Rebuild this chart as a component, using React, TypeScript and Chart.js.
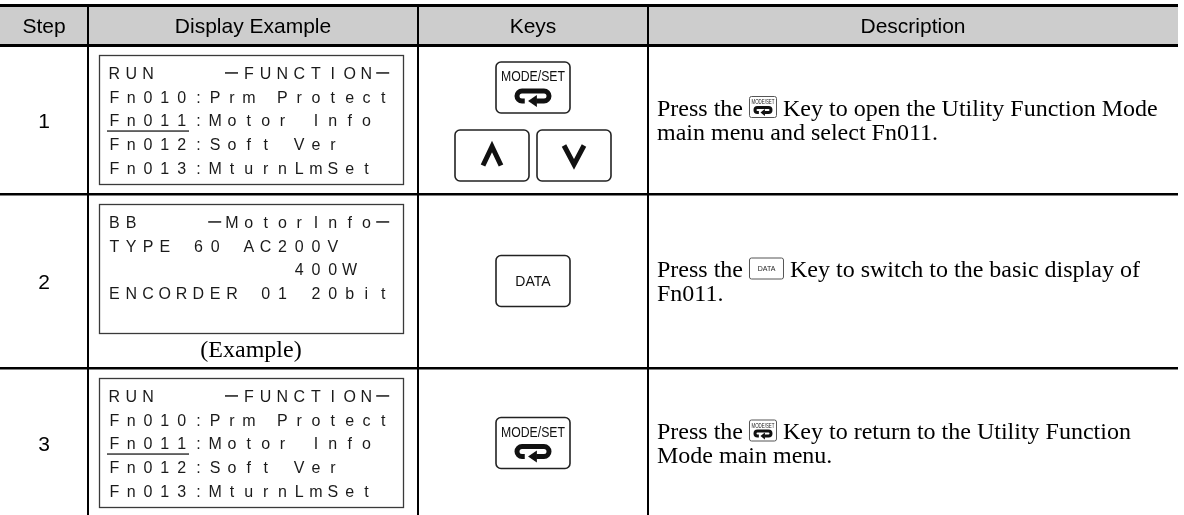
import React, { useEffect, useRef } from "react";
import { Chart, registerables } from "chart.js";

Chart.register(...registerables);

// ---------------- data ----------------
const HEADERS = ["Step", "Display Example", "Keys", "Description"];
const STEPS = ["1", "2", "3"];

const DISPLAY_STEP1 = ["RUN    −FUNCTION−", "Fn010:Prm Protect", "Fn011:Motor Info", "Fn012:Soft Ver", "Fn013:MturnLmSet"];
const DISPLAY_STEP2 = ["BB    −MotorInfo−", "TYPE 60 AC200V", "           400W", "ENCORDER 01 20bit"];
const DISPLAY_STEP3 = ["RUN    −FUNCTION−", "Fn010:Prm Protect", "Fn011:Motor Info", "Fn012:Soft Ver", "Fn013:MturnLmSet"];
const DISPLAYS = [DISPLAY_STEP1, DISPLAY_STEP2, DISPLAY_STEP3];
const DISPLAY_UNDERLINED_LINE = [2, -1, 2];
const DISPLAY_UNDERLINED_CHARS = 5;
const DISPLAY_CAPTIONS = ["", "(Example)", ""];

const KEYS_STEP1 = [["MODE/SET"], ["UP", "DOWN"]];
const KEYS_STEP2 = [["DATA"]];
const KEYS_STEP3 = [["MODE/SET"]];
const KEYS = [KEYS_STEP1, KEYS_STEP2, KEYS_STEP3];

const DESC_STEP1 = ["Press the {MODE/SET} Key to open the Utility Function Mode", "main menu and select Fn011."];
const DESC_STEP2 = ["Press the {DATA} Key to switch to the basic display of", "Fn011."];
const DESC_STEP3 = ["Press the {MODE/SET} Key to return to the Utility Function", "Mode main menu."];
const DESCRIPTIONS = [DESC_STEP1, DESC_STEP2, DESC_STEP3];

// ---------------- layout ----------------
const W = 1184;
const H = 515;
const COL_EDGES = [0, 88, 418, 648, 1178];
const ROW_EDGES = [5, 45, 194, 368, 518];

const SANS = "'Liberation Sans', Arial, Helvetica, sans-serif";
const SERIF = "'Liberation Serif', 'Times New Roman', Times, serif";

function roundRect(ctx: CanvasRenderingContext2D, x: number, y: number, w: number, h: number, r: number) {
  ctx.beginPath();
  ctx.moveTo(x + r, y);
  ctx.lineTo(x + w - r, y);
  ctx.arcTo(x + w, y, x + w, y + r, r);
  ctx.lineTo(x + w, y + h - r);
  ctx.arcTo(x + w, y + h, x + w - r, y + h, r);
  ctx.lineTo(x + r, y + h);
  ctx.arcTo(x, y + h, x, y + h - r, r);
  ctx.lineTo(x, y + r);
  ctx.arcTo(x, y, x + r, y, r);
  ctx.closePath();
}

function drawEnter(ctx: CanvasRenderingContext2D, cx: number, cy: number, halfW: number, r: number, lw: number, ah: number) {
  const xL = cx - halfW;
  const xR = cx + halfW;
  ctx.save();
  ctx.strokeStyle = "#111";
  ctx.fillStyle = "#111";
  ctx.lineWidth = lw;
  ctx.lineCap = "butt";
  ctx.beginPath();
  ctx.moveTo(xL + halfW * 0.25, cy + r);
  ctx.lineTo(xL, cy + r);
  ctx.arc(xL, cy, r, Math.PI / 2, (3 * Math.PI) / 2, false);
  ctx.lineTo(xR, cy - r);
  ctx.arc(xR, cy, r, -Math.PI / 2, Math.PI / 2, false);
  ctx.lineTo(cx + halfW * 0.3, cy + r);
  ctx.stroke();
  // arrow head pointing left
  ctx.beginPath();
  ctx.moveTo(cx - halfW * 0.45, cy + r);
  ctx.lineTo(cx + halfW * 0.35, cy + r - ah);
  ctx.lineTo(cx + halfW * 0.35, cy + r + ah);
  ctx.closePath();
  ctx.fill();
  ctx.restore();
}

function drawKey(ctx: CanvasRenderingContext2D, name: string, x: number, y: number, w: number, h: number) {
  ctx.save();
  roundRect(ctx, x, y, w, h, 5);
  ctx.fillStyle = "#fff";
  ctx.fill();
  ctx.strokeStyle = "#222";
  ctx.lineWidth = 1.6;
  ctx.stroke();
  const cx = x + w / 2;
  ctx.fillStyle = "#111";
  ctx.textAlign = "center";
  ctx.textBaseline = "alphabetic";
  if (name === "MODE/SET") {
    ctx.font = `15px ${SANS}`;
    ctx.fillText("MODE/SET", cx, y + 19, w - 10);
    drawEnter(ctx, cx, y + 34, 11, 5, 5, 6);
  } else if (name === "DATA") {
    ctx.font = `14px ${SANS}`;
    ctx.fillText("DATA", cx, y + h / 2 + 5);
  } else {
    const cy = y + h / 2;
    ctx.strokeStyle = "#111";
    ctx.lineWidth = 5;
    ctx.lineJoin = "miter";
    ctx.miterLimit = 10;
    ctx.beginPath();
    if (name === "UP") {
      ctx.moveTo(cx - 9, cy + 10);
      ctx.lineTo(cx, cy - 9);
      ctx.lineTo(cx + 9, cy + 10);
    } else {
      ctx.moveTo(cx - 10, cy - 10);
      ctx.lineTo(cx, cy + 9);
      ctx.lineTo(cx + 10, cy - 10);
    }
    ctx.stroke();
  }
  ctx.restore();
}

function inlineIconWidth(name: string) {
  return name === "DATA" ? 34 : 27;
}

function drawInlineIcon(ctx: CanvasRenderingContext2D, name: string, x: number, cy: number) {
  const w = inlineIconWidth(name);
  const h = 21;
  const y = cy - h / 2;
  ctx.save();
  roundRect(ctx, x + 0.5, y + 0.5, w, h, 2);
  ctx.strokeStyle = "#555";
  ctx.lineWidth = 1;
  ctx.stroke();
  ctx.fillStyle = "#222";
  ctx.textAlign = "center";
  ctx.textBaseline = "alphabetic";
  if (name === "MODE/SET") {
    ctx.font = `7px ${SANS}`;
    ctx.fillText("MODE/SET", x + w / 2 + 0.5, y + 8, w - 4);
    drawEnter(ctx, x + w / 2 + 0.5, y + 14, 5.5, 2.5, 3, 3.5);
  } else {
    ctx.font = `7px ${SANS}`;
    ctx.fillText("DATA", x + w / 2 + 0.5, y + h / 2 + 3);
  }
  ctx.restore();
}

const tablePlugin = {
  id: "tableCells",
  beforeDraw(chart: any) {
    const { ctx } = chart;
    const x = chart.scales.x;
    const y = chart.scales.y;
    const l = x.getPixelForValue(COL_EDGES[0]);
    const r = x.getPixelForValue(COL_EDGES[COL_EDGES.length - 1]);
    const t = y.getPixelForValue(ROW_EDGES[0]);
    const b = y.getPixelForValue(ROW_EDGES[1]);
    ctx.save();
    ctx.fillStyle = "#cdcdcd";
    ctx.fillRect(l, t, r - l, b - t);
    ctx.restore();
  },
  afterDraw(chart: any) {
    const { ctx } = chart;
    const xs = chart.scales.x;
    const ys = chart.scales.y;
    const px = (v: number) => xs.getPixelForValue(v);
    const py = (v: number) => ys.getPixelForValue(v);
    const colC = (i: number) => (px(COL_EDGES[i]) + px(COL_EDGES[i + 1])) / 2;

    ctx.save();
    ctx.fillStyle = "#000";
    // header
    ctx.font = `21px ${SANS}`;
    ctx.textAlign = "center";
    ctx.textBaseline = "alphabetic";
    HEADERS.forEach((h, i) => {
      ctx.fillText(h, colC(i), py(ROW_EDGES[0]) + 27.5);
    });

    for (let s = 0; s < STEPS.length; s++) {
      const top = py(ROW_EDGES[s + 1]);
      const bot = py(ROW_EDGES[s + 2]);
      const mid = (top + bot) / 2;

      // step number
      ctx.fillStyle = "#000";
      ctx.font = `21px ${SANS}`;
      ctx.textAlign = "center";
      ctx.textBaseline = "alphabetic";
      ctx.fillText(STEPS[s], colC(0), mid + 8);

      // LCD display box
      const bx = px(COL_EDGES[1]) + 11;
      const bw = px(COL_EDGES[2]) - 15 - bx;
      const by = top + 10;
      const bh = 129;
      ctx.strokeStyle = "#3a3a3a";
      ctx.lineWidth = 1.3;
      ctx.strokeRect(bx + 0.5, by + 0.5, bw, bh);
      const pitch = 16.8;
      const tx0 = bx + 7;
      ctx.font = `16px ${SANS}`;
      ctx.fillStyle = "#1a1a1a";
      DISPLAYS[s].forEach((line, li) => {
        const ly = by + 18 + li * 23.7;
        for (let c = 0; c < line.length; c++) {
          const ch = line[c];
          const cx = tx0 + (c + 0.5) * pitch;
          if (ch === " ") continue;
          if (ch === "−") {
            ctx.fillRect(cx - 7, ly - 0.8, 13, 1.5);
          } else {
            ctx.fillText(ch, cx, ly + 5.8);
          }
        }
        if (DISPLAY_UNDERLINED_LINE[s] === li) {
          ctx.fillRect(tx0 + 1, ly + 10, DISPLAY_UNDERLINED_CHARS * pitch - 2, 1.3);
        }
      });
      if (DISPLAY_CAPTIONS[s]) {
        ctx.font = `24px ${SERIF}`;
        ctx.fillStyle = "#000";
        ctx.fillText(DISPLAY_CAPTIONS[s], bx + bw / 2, by + bh + 24);
      }

      // keys
      const kw = 74;
      const kh = 51;
      const groups = KEYS[s];
      const centers = groups.length === 2 ? [mid - 32, mid + 36] : [mid];
      groups.forEach((g, gi) => {
        const gap = 8;
        const total = g.length * kw + (g.length - 1) * gap;
        let kx = colC(2) - total / 2;
        g.forEach((k) => {
          drawKey(ctx, k, kx, centers[gi] - kh / 2, kw, kh);
          kx += kw + gap;
        });
      });

      // description
      ctx.font = `24px ${SERIF}`;
      ctx.fillStyle = "#000";
      ctx.textAlign = "left";
      ctx.textBaseline = "alphabetic";
      const dx0 = px(COL_EDGES[3]) + 9;
      DESCRIPTIONS[s].forEach((line, li) => {
        const ly = mid - 12 + li * 24;
        const parts = line.split(/\{(.+?)\}/);
        let cx = dx0;
        parts.forEach((p, pi) => {
          if (pi % 2 === 1) {
            drawInlineIcon(ctx, p, cx, ly - 1);
            cx += inlineIconWidth(p) + 1;
            ctx.font = `24px ${SERIF}`;
            ctx.fillStyle = "#000";
            ctx.textAlign = "left";
            ctx.textBaseline = "alphabetic";
          } else if (p) {
            ctx.fillText(p, cx, ly + 8);
            cx += ctx.measureText(p).width;
          }
        });
      });
    }
    ctx.restore();
  },
};

export default function App() {
  const ref = useRef<HTMLCanvasElement | null>(null);
  useEffect(() => {
    const canvas = ref.current;
    if (!canvas) return;
    const chart = new Chart(canvas, {
      type: "scatter",
      data: { datasets: [] },
      options: {
        responsive: false,
        animation: false,
        events: [],
        devicePixelRatio: 1,
        layout: {
          padding: {
            left: 0,
            top: ROW_EDGES[0],
            right: W - COL_EDGES[COL_EDGES.length - 1],
            bottom: 0,
          },
        },
        plugins: { legend: { display: false }, tooltip: { enabled: false } },
        scales: {
          x: {
            type: "linear",
            min: COL_EDGES[0],
            max: COL_EDGES[COL_EDGES.length - 1],
            afterBuildTicks: (scale: any) => {
              scale.ticks = COL_EDGES.slice(1, -1).map((v) => ({ value: v }));
            },
            ticks: { display: false, autoSkip: false },
            grid: { color: "#000", lineWidth: 2, drawTicks: false },
            border: { display: false },
          },
          y: {
            type: "linear",
            reverse: true,
            min: ROW_EDGES[0],
            max: H,
            afterBuildTicks: (scale: any) => {
              scale.ticks = ROW_EDGES.slice(0, -1).map((v) => ({ value: v }));
            },
            ticks: { display: false, autoSkip: false },
            grid: {
              color: "#000",
              lineWidth: (c: any) => (c.tick && c.tick.value <= ROW_EDGES[1] ? 3 : 2.5),
              drawTicks: false,
            },
            border: { display: false },
          },
        },
      } as any,
      plugins: [tablePlugin as any],
    });
    return () => chart.destroy();
  }, []);
  return (
    <div style={{ position: "fixed", left: 0, top: 0, width: W, height: H, background: "#fff" }}>
      <canvas ref={ref} width={W} height={H} style={{ display: "block", width: W, height: H }} />
    </div>
  );
}
